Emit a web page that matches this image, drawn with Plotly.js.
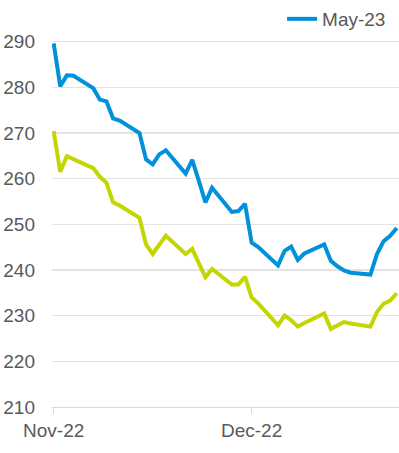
<!DOCTYPE html>
<html>
<head>
<meta charset="utf-8">
<script src="https://cdn.plot.ly/plotly-3.0.1.min.js"></script>
<style>
html,body{margin:0;padding:0;background:#fff;overflow:hidden;}
#chart{width:399px;height:453px;}
</style>
</head>
<body>
<div id="chart"></div>
<script>
// Trading dates
const dates = [
  "2022-11-01","2022-11-02","2022-11-03","2022-11-04",
  "2022-11-07","2022-11-08","2022-11-09","2022-11-10","2022-11-11",
  "2022-11-14","2022-11-15","2022-11-16","2022-11-17","2022-11-18",
  "2022-11-21","2022-11-22","2022-11-23","2022-11-24","2022-11-25",
  "2022-11-28","2022-11-29","2022-11-30","2022-12-01","2022-12-02",
  "2022-12-05","2022-12-06","2022-12-07","2022-12-08","2022-12-09",
  "2022-12-12","2022-12-13","2022-12-14","2022-12-15","2022-12-16",
  "2022-12-19","2022-12-20","2022-12-21","2022-12-22","2022-12-23"
];
// Blue series (legend: May-23)
const may23 = [
  289.6,280.2,282.6,282.5,
  279.8,277.3,276.9,273.2,272.7,
  270.0,264.2,263.1,265.3,266.2,
  261.1,264.1,259.5,254.8,258.0,
  252.7,252.9,254.5,246.0,245.0,
  241.0,244.2,245.1,242.2,243.6,
  245.6,242.0,240.8,239.9,239.4,
  239.0,243.5,246.3,247.5,249.2
];
// Yellow-green series
const series2 = [
  270.4,261.5,264.9,264.3,
  262.3,260.4,259.1,254.8,254.1,
  251.4,245.6,243.5,245.6,247.5,
  243.5,244.6,241.5,238.4,240.2,
  236.8,236.8,238.5,234.0,232.7,
  227.9,230.0,229.0,227.6,228.4,
  230.5,227.1,227.9,228.6,228.3,
  227.6,230.8,232.6,233.3,234.9
];
const xTickVals = ["2022-11-01","2022-12-01"];
const xTickText = ["Nov-22","Dec-22"];
const yTickVals = [210,220,230,240,250,260,270,280,290];

const font = "Liberation Sans, Arial, sans-serif";
const traces = [
  {x: dates, y: series2, type: "scatter", mode: "lines", name: "",
   showlegend: false, line: {color: "#c4d600", width: 4}},
  {x: dates, y: may23, type: "scatter", mode: "lines", name: "May-23",
   line: {color: "#0091da", width: 4}}
];
const layout = {
  width: 399, height: 453,
  margin: {l: 52, r: 0, t: 35, b: 46, pad: 0},
  paper_bgcolor: "#fff", plot_bgcolor: "#fff",
  font: {family: font, size: 19, color: "#595959"},
  showlegend: true,
  legend: {orientation: "h", x: 0.663, xanchor: "left", y: 1.10, yanchor: "top",
           font: {family: font, size: 19, color: "#595959"}, bgcolor: "rgba(0,0,0,0)"},
  xaxis: {type: "date", range: ["2022-10-31 18:00", "2022-12-23 08:00"],
          tickmode: "array", tickvals: xTickVals, ticktext: xTickText,
          ticks: "outside", ticklen: 6, tickcolor: "#d9d9d9", tickwidth: 1,
          showgrid: false, showline: true, linecolor: "#d9d9d9", linewidth: 1,
          zeroline: false, tickfont: {family: font, size: 19, color: "#595959"}},
  yaxis: {range: [210, 291], tickmode: "array", tickvals: yTickVals,
          showgrid: true, gridcolor: "#e3e3e3", gridwidth: 1.3,
          zeroline: false, showline: false, ticks: "",
          ticklabelstandoff: 16,
          tickfont: {family: font, size: 19, color: "#595959"}}
};
Plotly.newPlot("chart", traces, layout, {staticPlot: true, displayModeBar: false});
</script>
</body>
</html>
